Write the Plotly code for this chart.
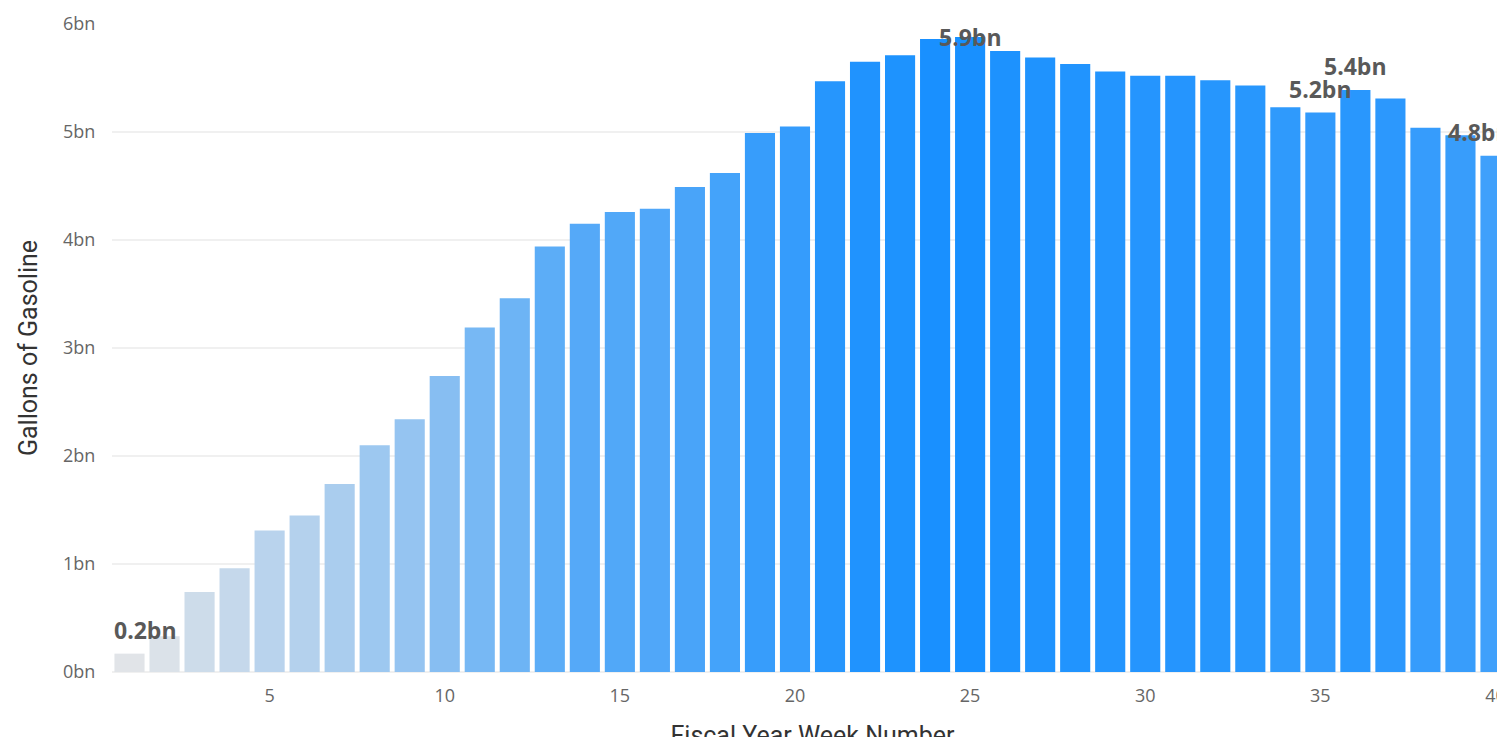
import plotly.graph_objects as go

weeks = list(range(1, 41))
gallons_bn = [0.17, 0.33, 0.74, 0.96, 1.31, 1.45, 1.74, 2.10, 2.34, 2.74,
              3.19, 3.46, 3.94, 4.15, 4.26, 4.29, 4.49, 4.62, 4.99, 5.05,
              5.47, 5.65, 5.71, 5.86, 5.88, 5.75, 5.69, 5.63, 5.56, 5.52,
              5.52, 5.48, 5.43, 5.23, 5.18, 5.39, 5.31, 5.04, 4.97, 4.78]
label_weeks = [1, 25, 35, 36, 40]
label_texts = ["0.2bn", "5.9bn", "5.2bn", "5.4bn", "4.8bn"]
y_ticks = [0, 1, 2, 3, 4, 5, 6]
y_tick_text = ["0bn", "1bn", "2bn", "3bn", "4bn", "5bn", "6bn"]
x_ticks = [5, 10, 15, 20, 25, 30, 35, 40]

x_range = [0.5, 40.5]
y_range = [0, 6]

fig = go.Figure()
fig.add_trace(go.Bar(
    x=weeks, y=gallons_bn,
    marker=dict(color=gallons_bn, colorscale=[[0, "#e1e4e8"], [1, "#1890ff"]],
                cmin=min(gallons_bn), cmax=max(gallons_bn), line=dict(width=0)),
    hoverinfo="x+y",
))

label_font = dict(family="Open Sans, Noto Sans, sans-serif", size=23, color="#595959")
label_h = 0.32  # approx label height in data units incl. gap
for wk, txt in zip(label_weeks, label_texts):
    val = gallons_bn[weeks.index(wk)]
    xa = "center"
    xv = wk
    if wk == weeks[0]:
        xa, xv = "left", x_range[0]
    elif wk == weeks[-1]:
        xa, xv = "right", x_range[1]
    if val + label_h > y_range[1]:
        ya, yv, ys = "top", y_range[1], 5
    else:
        ya, yv, ys = "bottom", val, 6
    fig.add_annotation(x=xv, y=yv, text="<b>" + txt + "</b>", showarrow=False,
                       xanchor=xa, yanchor=ya, yshift=ys, font=label_font)

tick_font = dict(family="Open Sans, sans-serif", size=18, color="#666666")
title_font = dict(family="Roboto, sans-serif", size=25, color="#333333")

fig.update_layout(
    width=1523, height=762,
    margin=dict(l=112, r=10, t=24, b=90),
    plot_bgcolor="white", paper_bgcolor="white",
    bargap=0.14, showlegend=False,
    xaxis=dict(range=x_range, tickvals=x_ticks, tickfont=tick_font,
               showgrid=False, zeroline=False, showline=False,
               ticks="outside", ticklen=7, tickcolor="white",
               title=dict(text="Fiscal Year Week Number", font=title_font, standoff=20)),
    yaxis=dict(range=y_range, tickvals=y_ticks, ticktext=y_tick_text, tickfont=tick_font,
               showgrid=True, gridcolor="#f0f0f0", gridwidth=2,
               zeroline=True, zerolinecolor="#f0f0f0", zerolinewidth=2,
               ticks="outside", ticklen=12, tickcolor="white",
               title=dict(text="Gallons of Gasoline", font=title_font, standoff=18)),
)

fig.write_html("out.html", config={"displayModeBar": False},
               post_script="document.body.style.overflow='hidden';document.body.style.margin='0';")
